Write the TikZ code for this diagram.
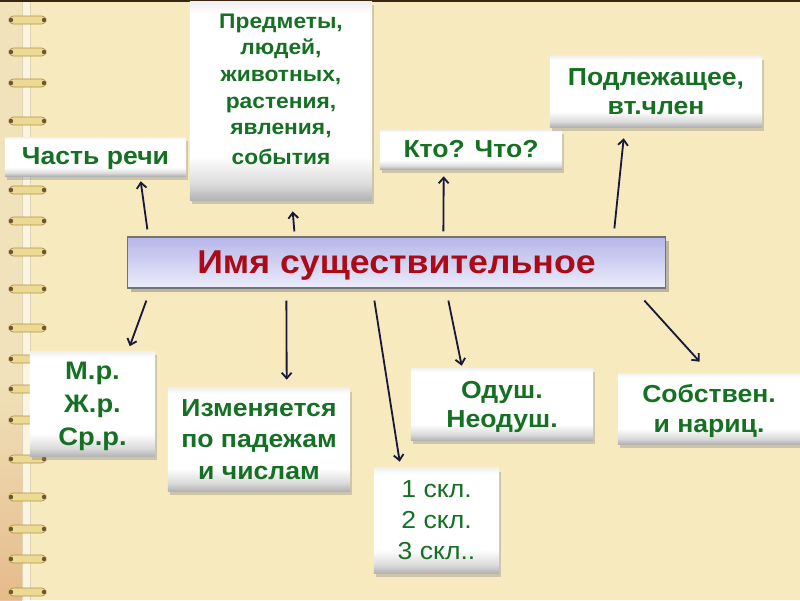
\documentclass[tikz,border=0pt]{standalone}
\usepackage{fontspec}
\setmainfont{Liberation Sans}[FakeStretch=1.08]
\usetikzlibrary{calc,arrows.meta,shadows}

\definecolor{paper}{RGB}{247,234,190}
\definecolor{spine}{RGB}{240,226,186}
\definecolor{stripe}{RGB}{251,245,224}
\definecolor{rust}{RGB}{226,170,120}
\definecolor{ringfill}{RGB}{236,218,148}
\definecolor{ringedge}{RGB}{175,145,75}
\definecolor{leaf}{RGB}{22,112,36}
\definecolor{title}{RGB}{172,10,22}
\definecolor{ink}{RGB}{25,25,60}
\definecolor{lavtop}{RGB}{182,182,234}
\definecolor{lavbot}{RGB}{236,236,251}

\pgfdeclareverticalshading{boxfade}{100bp}{color(0bp)=(black!30); color(25bp)=(black!30); color(29bp)=(black!14); color(36bp)=(white); color(72bp)=(white); color(75bp)=(black!6); color(100bp)=(black!6)}

\begin{document}
\begin{tikzpicture}[x=0.025cm, y=-0.025cm,
  box/.style={shading=boxfade, drop shadow={shadow xshift=1.5pt, shadow yshift=-2.5pt, opacity=0.35}, text=leaf, align=center, inner sep=0pt},
  arr/.style={-{Straight Barb[length=4pt,width=7pt]}, ink, line width=1.3pt}]

\useasboundingbox (0,0) rectangle (800,600);
\fill[paper] (0,0) rectangle (800,600);
\fill[spine] (0,0) rectangle (22,600);
\shade[top color=spine, bottom color=rust, opacity=0.7] (0,380) rectangle (22,600);
\fill[stripe] (22,0) rectangle (30,600);
\draw[ringedge!40, line width=0.5pt] (22,0) -- (22,600) (30,0) -- (30,600);
\fill[black!70!brown] (0,0) rectangle (800,2);

\foreach \y in {20,52,83,121,155,190,221,252,289,328,359,389,420,459,497,529,559,592} {
  \filldraw[fill=ringfill, draw=ringedge, line width=0.5pt, rounded corners=3] (9,\y-4) rectangle (46,\y+4);
  \fill[ringedge!60!black] (11,\y) circle (2.2);
  \fill[ringedge!60!black] (44,\y) circle (2.2);
}

\node[box, minimum width=4.525cm, minimum height=0.975cm, text depth=0pt, font=\bfseries\fontsize{17.5}{21}\selectfont] (0) at (95.5,156.5) {Часть речи};
\node[box, minimum width=4.55cm, minimum height=4.95cm, text depth=17pt, font=\bfseries\fontsize{15}{19}\selectfont] (1) at (281,101) {Предметы,\\людей,\\животных,\\растения,\\явления,\\[2pt]события};
\node[box, minimum width=4.55cm, minimum height=0.975cm, font=\bfseries\fontsize{17.5}{21}\selectfont] (2) at (471,149.5) {Кто? Что?};
\node[box, minimum width=5.3cm, minimum height=1.775cm, font=\bfseries\fontsize{17.5}{21}\selectfont] (3) at (656,91.5) {Подлежащее,\\вт.член};

\node[draw=black!55, line width=0.8pt, top color=lavtop, bottom color=lavbot, drop shadow={shadow xshift=2.5pt, shadow yshift=-2.5pt, opacity=0.5}, text=title, inner sep=0pt, text depth=0pt, minimum width=13.425cm, minimum height=1.275cm, font=\bfseries\fontsize{23.5}{26}\selectfont] (4) at (396.5,262.5) {Имя существительное};

\node[box, minimum width=3.125cm, minimum height=2.625cm, text depth=0pt, font=\bfseries\fontsize{18}{23.6}\selectfont] (5) at (92.5,404) {М.р.\\Ж.р.\\Ср.р.};
\node[box, minimum width=4.55cm, minimum height=2.575cm, font=\bfseries\fontsize{17.5}{22.5}\selectfont] (6) at (259,439.5) {Изменяется\\по падежам\\и числам};
\node[box, minimum width=3.125cm, minimum height=2.625cm, font=\fontsize{17.5}{22}\selectfont] (7) at (436.5,520.5) {1 скл.\\2 скл.\\3 скл..};
\node[box, minimum width=4.55cm, minimum height=1.8cm, text depth=0pt, font=\bfseries\fontsize{17.5}{20.5}\selectfont] (8) at (502,404) {Одуш.\\Неодуш.};
\node[box, minimum width=4.55cm, minimum height=1.775cm, text depth=0pt, font=\bfseries\fontsize{17.5}{21.5}\selectfont] (9) at (709,408.5) {Собствен.\\и нариц.};

\draw ($(4.north west)+(20,-7)$) edge[arr] ($(0.south west)+(136,5)$);
\draw ($(4.north west)+(167,-5)$) edge[arr] ($(1.south west)+(103,11)$);
\draw ($(4.north west)+(316,-5)$) edge[arr] ($(2.south west)+(64,7)$);
\draw ($(4.north west)+(487,-8)$) edge[arr] ($(3.south west)+(74,11)$);

\draw ($(4.south west)+(19,12)$) edge[arr] ($(5.north west)+(100,-5)$);
\draw ($(4.south west)+(159,12)$) edge[arr] ($(6.north west)+(119,-8)$);
\draw ($(4.south west)+(247,12)$) edge[arr] ($(7.north west)+(26,-6)$);
\draw ($(4.south west)+(321,12)$) edge[arr] ($(8.north west)+(51,-2)$);
\draw ($(4.south west)+(517,12)$) edge[arr] ($(9.north west)+(82,-11)$);
\end{tikzpicture}
\end{document}
